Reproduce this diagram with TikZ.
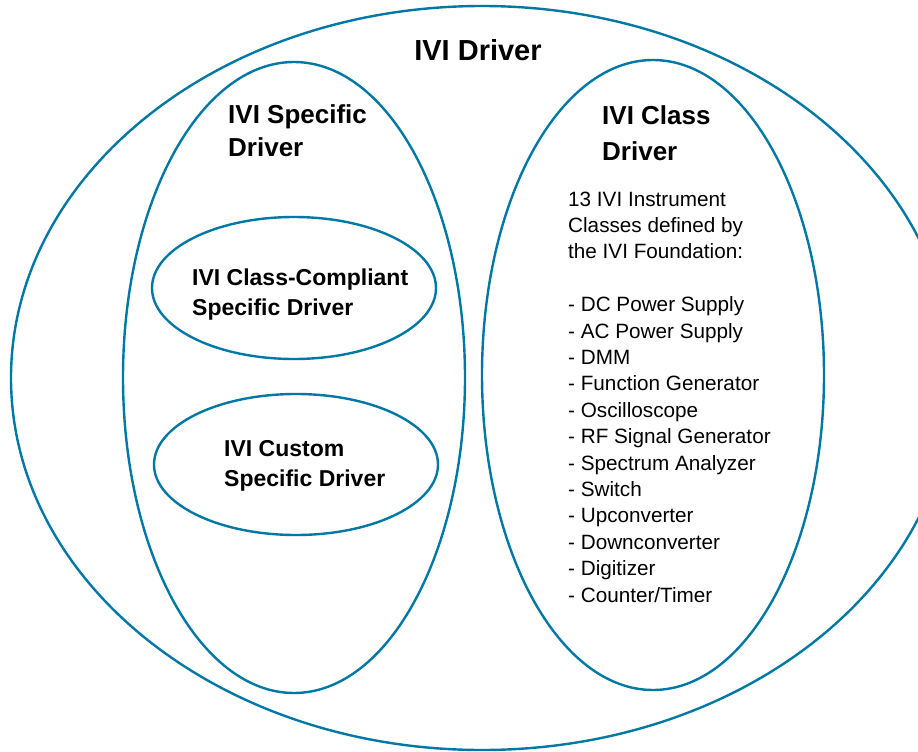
\documentclass[tikz,border=0pt]{standalone}
\usepackage{fontspec}
\setmainfont{Liberation Sans}
\definecolor{iviblue}{RGB}{0,120,165}
\newcommand{\bigsize}{\fontsize{29}{35}\selectfont\bfseries}
\newcommand{\midsize}{\fontsize{26}{33.4}\selectfont\bfseries}
\newcommand{\smallsize}{\fontsize{23}{30}\selectfont\bfseries}
\newcommand{\listsize}{\fontsize{20.7}{26.4}\selectfont}

\begin{document}
\begin{tikzpicture}[x=1pt,y=-1pt,
    ring/.style={draw=iviblue,line width=2.4pt},
    heading/.style={inner sep=0pt,anchor=base west,align=left}]
  \useasboundingbox (0,0) rectangle (918,752);

  %outer ellipse
  \draw[ring] (482,378) ellipse [x radius=471pt, y radius=372pt];
  \node[inner sep=0pt,anchor=base,font=\bigsize] (ividriver) at (478,60) {IVI Driver};

  %specific driver side (nodes sit on their last baseline)
  \draw[ring] (294,377.5) ellipse [x radius=171pt, y radius=315.5pt];
  \node[heading,font=\midsize] (specific) at (228,156.7) {IVI Specific\\Driver};

  \draw[ring] (294,288) ellipse [x radius=142pt, y radius=71pt];
  \node[heading,font=\smallsize] (compliant) at (192,315) {IVI Class-Compliant\\Specific Driver};

  \draw[ring] (296,464.5) ellipse [x radius=142pt, y radius=70.5pt];
  \node[heading,font=\smallsize] (custom) at (224,486) {IVI Custom\\Specific Driver};

  %class driver side
  \draw[ring] (653,375) ellipse [x radius=171pt, y radius=315pt];
  \node[heading,font=\fontsize{26}{36.4}\selectfont\bfseries] (classdrv) at (602,160.7) {IVI Class\\Driver};

  %instrument classes
  \node[heading,font=\listsize] (classes) at (568,602) {13 IVI Instrument\\
    Classes defined by\\
    the IVI Foundation:\\[26.4pt]
    - DC Power Supply\\
    - AC Power Supply\\
    - DMM\\
    - Function Generator\\
    - Oscilloscope\\
    - RF Signal Generator\\
    - Spectrum Analyzer\\
    - Switch\\
    - Upconverter\\
    - Downconverter\\
    - Digitizer\\
    - Counter/Timer};
\end{tikzpicture}
\end{document}
